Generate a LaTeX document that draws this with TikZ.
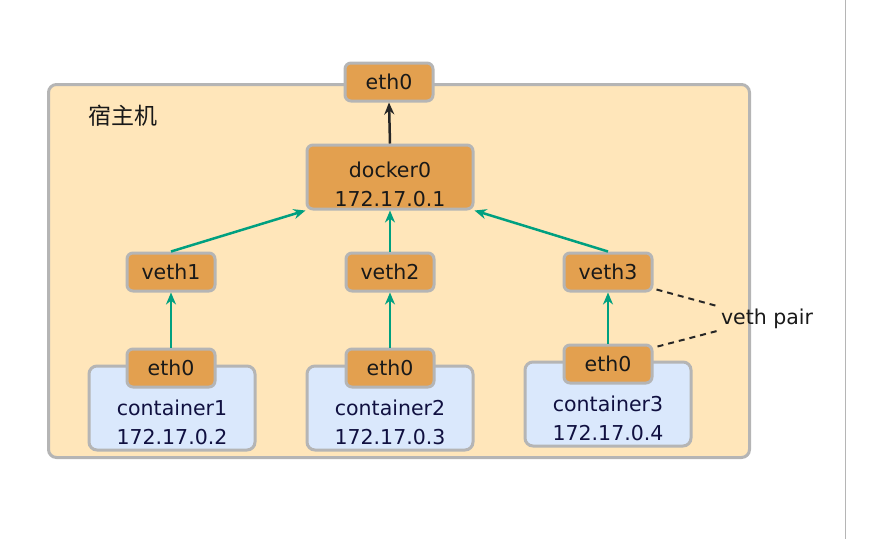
\documentclass[tikz,border=0pt]{standalone}
\usepackage{fontspec}
\setmainfont{DejaVu Sans}
\newfontfamily\cjk{Noto Sans CJK SC}
\usetikzlibrary{arrows.meta}
\definecolor{hostfill}{HTML}{FFE6BA}
\definecolor{ifill}{HTML}{E3A04F}
\definecolor{cfill}{HTML}{DAE8FC}
\definecolor{bordergray}{HTML}{B5B5B5}
\definecolor{teal}{HTML}{00A080}
\definecolor{navy}{HTML}{101040}
\tikzset{
  lbl/.style={font=\fontsize{20.5}{23}\selectfont},
  iface/.style={draw=bordergray, line width=3pt, fill=ifill, rounded corners=6pt, minimum width=88pt, minimum height=38pt, inner sep=0pt, lbl, text=black!90},
  cbox/.style={draw=bordergray, line width=3pt, fill=cfill, rounded corners=8pt, minimum width=166pt, minimum height=84pt, inner sep=0pt},
  ctext/.style={lbl, text=navy},
  garrow/.style={draw=teal, line width=2.5pt, -{Stealth[length=12pt,width=10pt]}},
  karrow/.style={draw=black!85, line width=2.5pt, -{Stealth[length=12pt,width=10pt]}},
  pairline/.style={draw=black!85, line width=2pt, dash pattern=on 6pt off 5pt}
}
\begin{document}
\begin{tikzpicture}[x=1pt,y=-1pt]
\useasboundingbox (0,0) rectangle (883,539);
\draw[bordergray, line width=0.6pt] (845,0) -- (845,539);
% host
\node[draw=bordergray, line width=3pt, fill=hostfill, rounded corners=8pt, minimum width=701pt, minimum height=373pt, inner sep=0pt] (host) at (399,271) {};
\node[font=\cjk\fontsize{23}{25}\selectfont, text=black!90] (hostlbl) at (123,116) {宿主机};
% interfaces
\node[iface] (eth0h) at (389,82) {eth0};
\node[iface, minimum width=166pt, minimum height=64pt] (docker) at (390,177) {};
\node[lbl, text=black!90] (dockert) at (390,170) {docker0};
\node[lbl, text=black!90] (dockerip) at (390,199) {172.17.0.1};
\node[iface] (veth1) at (171,272) {veth1};
\node[iface] (veth2) at (390,272) {veth2};
\node[iface] (veth3) at (608,272) {veth3};
% containers
\node[cbox] (c1) at (172,408) {};
\node[cbox] (c2) at (390,408) {};
\node[cbox] (c3) at (608,404) {};
\node[ctext] (c1n) at (172,408) {container1};
\node[ctext] (c1ip) at (172,437) {172.17.0.2};
\node[ctext] (c2n) at (390,408) {container2};
\node[ctext] (c2ip) at (390,437) {172.17.0.3};
\node[ctext] (c3n) at (608,404) {container3};
\node[ctext] (c3ip) at (608,433) {172.17.0.4};
\node[iface] (e1) at (171,368) {eth0};
\node[iface] (e2) at (390,368) {eth0};
\node[iface] (e3) at (608,364) {eth0};
% arrows
\draw[karrow] (docker.north) -- (eth0h.south);
\draw[garrow] (veth1.north) -- (docker.south west);
\draw[garrow] (veth2.north) -- (docker.south);
\draw[garrow] (veth3.north) -- (docker.south east);
\draw[garrow] (e1.north) -- (veth1.south);
\draw[garrow] (e2.north) -- (veth2.south);
\draw[garrow] (e3.north) -- (veth3.south);
% veth pair
\node[lbl, text=black!90] (pair) at (767,319) {veth pair};
\coordinate (pa) at (717,306);
\coordinate (pb) at (717,331);
\draw[pairline] (veth3.south east) ++(3,-3) -- (pa);
\draw[pairline] (e3.north east) ++(4,3) -- (pb);
\end{tikzpicture}
\end{document}
